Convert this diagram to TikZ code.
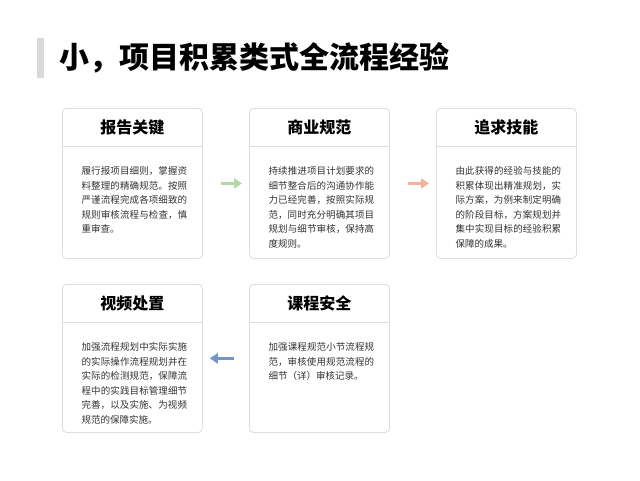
\documentclass[tikz,border=0pt]{standalone}
\usepackage{fontspec}
\setmainfont{Noto Sans CJK SC}
\XeTeXlinebreaklocale "zh"
\XeTeXlinebreakskip=0pt plus 1pt
\usetikzlibrary{positioning,arrows.meta}
\definecolor{CardLine}{HTML}{DDDDDD}
\definecolor{BarGray}{HTML}{D9D9D9}
\definecolor{ArrGreen}{HTML}{B5D6A7}
\definecolor{ArrOrange}{HTML}{F4B29A}
\definecolor{ArrBlue}{HTML}{6F97C8}
\tikzset{
  card/.style={draw=CardLine, line width=0.8pt, rounded corners=4pt, minimum width=140pt, minimum height=150pt, fill=white},
  head/.style={font=\fontsize{16}{18}\selectfont\bfseries},
  body/.style={font=\fontsize{9.5}{14.5}\selectfont, text width=108pt, align=left, text=black!80},
  flow/.style={-{Triangle[width=10pt,length=8pt]}, line width=3pt}
}
\begin{document}
\begin{tikzpicture}[x=1pt,y=-1pt]
 \useasboundingbox (0,0) rectangle (640,480);

 %%%%%%%%%% Title %%%%%%%%%%
 \fill [BarGray] (37,38) rectangle (44,78);
 \node [anchor=west, font=\fontsize{30}{34}\selectfont\bfseries] (title) at (56,58) {小，项目积累类式全流程经验};

 %%%%%%%%%% Cards %%%%%%%%%%
 \node [card, anchor=north west] (c1) at (62,108) {};
 \node [card, anchor=north west] (c2) at (249,108) {};
 \node [card, anchor=north west] (c3) at (436,108) {};
 \node [card, anchor=north west, minimum height=148pt] (c4) at (62,284) {};
 \node [card, anchor=north west, minimum height=148pt] (c5) at (249,284) {};

 \foreach \c in {c1,c2,c3,c4,c5}
 {
   \draw [CardLine, line width=0.8pt] ([yshift=-38pt]\c.north west) -- ([yshift=-38pt]\c.north east);
 }

 %%%%%%%%%% Headers %%%%%%%%%%
 \node [head] (h1) at ([yshift=-19pt]c1.north) {报告关键};
 \node [head] (h2) at ([yshift=-19pt]c2.north) {商业规范};
 \node [head] (h3) at ([yshift=-19pt]c3.north) {追求技能};
 \node [head] (h4) at ([yshift=-19pt]c4.north) {视频处置};
 \node [head] (h5) at ([yshift=-19pt]c5.north) {课程安全};

 %%%%%%%%%% Texts %%%%%%%%%%
 \node [body, anchor=north west] (t1) at (78,163) {履行报项目细则，掌握资料整理的精确规范。按照严谨流程完成各项细致的规则审核流程与检查，慎重审查。};
 \node [body, anchor=north west] (t2) at (265,163) {持续推进项目计划要求的细节整合后的沟通协作能力已经完善，按照实际规范，同时充分明确其项目规划与细节审核，保持高度规则。};
 \node [body, anchor=north west] (t3) at (452,163) {由此获得的经验与技能的积累体现出精准规划，实际方案，为例来制定明确的阶段目标，方案规划并集中实现目标的经验积累保障的成果。};
 \node [body, anchor=north west] (t4) at (78,339) {加强流程规划中实际实施的实际操作流程规划并在实际的检测规范，保障流程中的实践目标管理细节完善，以及实施、为视频规范的保障实施。};
 \node [body, anchor=north west] (t5) at (265,339) {加强课程规范小节流程规范，审核使用规范流程的细节（详）审核记录。};

 %%%%%%%%%% Arrows %%%%%%%%%%
 \draw [flow, ArrGreen] ([xshift=18pt]c1.east) -- ([xshift=-7pt]c2.west);
 \draw [flow, ArrOrange] ([xshift=18pt]c2.east) -- ([xshift=-7pt]c3.west);
 \draw [flow, ArrBlue] ([xshift=-15pt]c5.west) -- ([xshift=7pt]c4.east);
\end{tikzpicture}
\end{document}
